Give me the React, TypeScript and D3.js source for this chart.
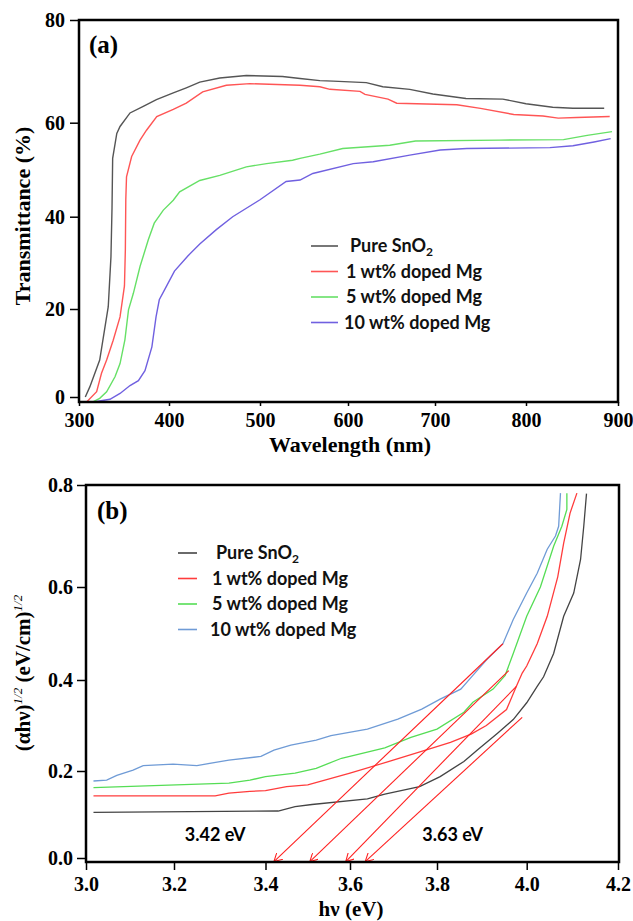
import React, { useEffect, useRef } from 'react';
import * as d3 from 'd3';

// ---- panel (a): transmittance spectra ----
const wlTicks = [300, 400, 500, 600, 700, 800, 900];
const transTicks = [0, 20, 40, 60, 80];

const pureWl = [307, 312, 323, 332.5, 335.5, 336.7, 337.4, 342, 345.6, 356.7, 371.4, 386, 404.7, 419, 433.8, 455.8, 485, 525.6, 545.5, 568, 583, 621, 640, 671, 697.5, 734, 774.5, 800, 829, 851, 885];
const pureT = [0, 2.3, 8.4, 20.5, 31.3, 42, 52.4, 57.7, 59.2, 61.9, 63.2, 64.5, 65.8, 66.8, 67.9, 68.7, 69.2, 69, 68.6, 68.2, 68.1, 67.8, 67, 66.5, 65.6, 64.7, 64.6, 63.7, 63, 62.8, 62.8];

const mg1Wl = [309, 319.6, 325, 330.7, 338, 345.6, 350.5, 351.5, 352, 352.8, 358.5, 367.8, 375, 386.4, 404.7, 419, 437, 463, 489, 545.5, 568, 579.5, 613.8, 619.5, 646, 656, 724, 750, 786.5, 818.5, 835, 855, 891];
const mg1T = [-1, 1.2, 5.4, 8.4, 12.9, 18.2, 25, 32.8, 43.6, 48.5, 52.8, 56.3, 58.4, 61.2, 62.6, 63.8, 66, 67.3, 67.6, 67.3, 67, 66.5, 66.1, 65.5, 64.6, 63.8, 63.5, 62.8, 61.6, 61.3, 60.9, 61, 61.2];

const mg5Wl = [316, 323, 330.7, 340, 345.6, 351, 355, 360.4, 367.8, 377, 383.6, 393.7, 404.7, 411.7, 433.8, 455.8, 485, 507.5, 537, 545.5, 568, 594, 648, 677.6, 771, 840.8, 866.5, 893.5];
const mg5T = [-1, -0.3, 1.2, 4.6, 7.6, 13, 19.8, 23.4, 29.2, 35, 38.6, 41.4, 43.5, 45.3, 47.7, 48.8, 50.6, 51.3, 52, 52.4, 53.3, 54.5, 55.2, 56.1, 56.3, 56.4, 57.3, 58.1];

const mg10Wl = [319.6, 334.4, 345.6, 356.7, 366, 373.3, 381, 385.6, 389.2, 397.4, 406, 420.7, 433.8, 452, 470, 500, 529.7, 545.5, 560, 606, 629, 671, 705.7, 735, 826, 851, 874, 892];
const mg10T = [-1, -0.5, 0.8, 2.6, 3.7, 6, 11.4, 18.2, 22, 25, 28.2, 31.5, 34.1, 37.2, 40, 43.6, 47.5, 47.8, 49.2, 51.3, 51.7, 53.1, 54.2, 54.5, 54.7, 55.1, 55.9, 56.6];

// ---- panel (b): Tauc plot ----
const evTicks = [3, 3.2, 3.4, 3.6, 3.8, 4, 4.2];
const taucTicks = [0, 0.2, 0.4, 0.6, 0.8];

const pureEv = [3.017, 3.43, 3.47, 3.51, 3.64, 3.68, 3.76, 3.807, 3.86, 3.89, 3.935, 3.97, 4.0, 4.023, 4.037, 4.059, 4.081, 4.103, 4.118, 4.125, 4.131];
const pureTauc = [0.105, 0.108, 0.118, 0.123, 0.136, 0.147, 0.164, 0.187, 0.221, 0.246, 0.283, 0.313, 0.35, 0.386, 0.407, 0.457, 0.537, 0.587, 0.654, 0.719, 0.783];

const mg1Ev = [3.017, 3.29, 3.32, 3.366, 3.4, 3.45, 3.5, 3.6, 3.69, 3.785, 3.83, 3.876, 3.91, 3.955, 3.977, 3.99, 4.0, 4.023, 4.045, 4.068, 4.081, 4.095, 4.11];
const mg1Tauc = [0.143, 0.143, 0.149, 0.153, 0.155, 0.164, 0.168, 0.195, 0.221, 0.249, 0.263, 0.281, 0.3, 0.335, 0.386, 0.415, 0.43, 0.478, 0.537, 0.62, 0.686, 0.745, 0.784];

const mg5Ev = [3.017, 3.32, 3.366, 3.4, 3.47, 3.52, 3.58, 3.68, 3.74, 3.8, 3.86, 3.88, 3.925, 3.952, 3.97, 4.0, 4.03, 4.059, 4.077, 4.088, 4.088];
const mg5Tauc = [0.162, 0.172, 0.179, 0.187, 0.195, 0.206, 0.228, 0.251, 0.274, 0.292, 0.329, 0.351, 0.38, 0.41, 0.457, 0.537, 0.6, 0.68, 0.719, 0.752, 0.784];

const mg10Ev = [3.017, 3.047, 3.07, 3.107, 3.13, 3.198, 3.25, 3.32, 3.39, 3.42, 3.46, 3.52, 3.555, 3.64, 3.71, 3.765, 3.807, 3.853, 3.88, 3.91, 3.947, 3.97, 4.0, 4.023, 4.045, 4.063, 4.07, 4.074];
const mg10Tauc = [0.177, 0.179, 0.19, 0.202, 0.212, 0.215, 0.212, 0.224, 0.232, 0.246, 0.257, 0.268, 0.278, 0.292, 0.314, 0.336, 0.358, 0.38, 0.41, 0.443, 0.478, 0.53, 0.587, 0.627, 0.674, 0.7, 0.719, 0.784];

// extrapolation arrows down to the energy axis
const arrowStartEv = [3.947, 3.96, 3.977, 3.99];
const arrowStartTauc = [0.478, 0.42, 0.386, 0.318];
const arrowEndEv = [3.42, 3.505, 3.59, 3.635];

const seriesNames = ['Pure SnO', '1 wt% doped Mg', '5 wt% doped Mg', '10 wt% doped Mg'];
const colorsA = ['#555555', '#ff5555', '#66e066', '#7060e0'];
const colorsB = ['#444444', '#ff3c3c', '#55dd55', '#6f9bd6'];

const SERIF = '"Liberation Serif", "Times New Roman", serif';
const SANS = 'Lato, "Open Sans", sans-serif';

const App = () => {
  const svgRef = useRef(null);

  useEffect(() => {
    const svg = d3.select(svgRef.current);
    svg.selectAll('*').remove();

    const styleAxis = (g) => {
      g.select('.domain').remove();
      g.attr('font-family', SERIF).attr('font-size', 20).attr('font-weight', 'bold');
      g.selectAll('.tick line').attr('stroke', '#000').attr('stroke-width', 1.5);
      g.selectAll('.tick text').attr('fill', '#000');
    };

    const drawLegend = (x1, x2, tx, y0, dy, colors) => {
      const lg = svg.append('g');
      seriesNames.forEach((name, i) => {
        const y = y0 + i * dy;
        lg.append('line').attr('x1', x1).attr('x2', x2).attr('y1', y).attr('y2', y)
          .attr('stroke', colors[i]).attr('stroke-width', 1.6);
        const t = lg.append('text').attr('x', tx + (i === 0 ? 4 : i === 3 ? -2 : 0)).attr('y', y + 6)
          .attr('font-family', SANS).attr('font-weight', 'bold').attr('font-size', 18).attr('fill', '#111');
        t.append('tspan').text(name);
        if (i === 0) t.append('tspan').attr('dy', 4).attr('font-size', 12).text('2');
      });
    };

    // ---------- (a) ----------
    const xA = d3.scaleLinear().domain(wlTicks).range([79, 169, 260, 348, 435, 526, 618]);
    const yA = d3.scaleLinear().domain([-1.1, 0, 20, 40, 60, 80]).range([402, 397, 309, 216.7, 122.7, 20]);

    svg.append('g').attr('transform', 'translate(79,0)')
      .call(d3.axisLeft(yA).tickValues(transTicks).tickSize(9).tickPadding(5).tickSizeOuter(0))
      .call(styleAxis);
    svg.append('g').attr('transform', 'translate(0,402)')
      .call(d3.axisBottom(xA).tickValues(wlTicks).tickSize(4).tickPadding(7).tickSizeOuter(0))
      .call(styleAxis);

    const lineA = d3.line().x(d => xA(d[0])).y(d => yA(d[1]));
    const dataA = [[pureWl, pureT], [mg1Wl, mg1T], [mg5Wl, mg5T], [mg10Wl, mg10T]];
    dataA.forEach(([xs, ys], i) => {
      svg.append('path').datum(xs.map((x, j) => [x, ys[j]]))
        .attr('d', lineA).attr('fill', 'none').attr('stroke', colorsA[i]).attr('stroke-width', 1.4);
    });

    svg.append('rect').attr('x', 79).attr('y', 20).attr('width', 618 - 79).attr('height', 402 - 20)
      .attr('fill', 'none').attr('stroke', '#000').attr('stroke-width', 2.5);

    svg.append('text').attr('x', 89).attr('y', 53).attr('font-family', SERIF).attr('font-weight', 'bold')
      .attr('font-size', 25).text('(a)');

    drawLegend(311, 338, 346, 246, 25.5, colorsA);

    svg.append('text').attr('transform', 'translate(30,216) rotate(-90)').attr('text-anchor', 'middle')
      .attr('font-family', SERIF).attr('font-weight', 'bold').attr('font-size', 22).text('Transmittance (%)');
    svg.append('text').attr('x', 350).attr('y', 452).attr('text-anchor', 'middle')
      .attr('font-family', SERIF).attr('font-weight', 'bold').attr('font-size', 22).text('Wavelength (nm)');

    // ---------- (b) ----------
    const xB = d3.scaleLinear().domain(evTicks).range([86, 174, 265.5, 350, 437, 526.7, 618]);
    const yB = d3.scaleLinear().domain([-0.009, 0, 0.2, 0.4, 0.6, 0.8]).range([862, 858, 771, 680, 587, 485]);

    svg.append('g').attr('transform', 'translate(86,0)')
      .call(d3.axisLeft(yB).tickValues(taucTicks).tickSize(9).tickPadding(4).tickSizeOuter(0))
      .call(styleAxis);
    svg.append('g').attr('transform', 'translate(0,862)')
      .call(d3.axisBottom(xB).tickValues(evTicks).tickSize(8).tickPadding(7).tickSizeOuter(0))
      .call(styleAxis);

    const lineB = d3.line().x(d => xB(d[0])).y(d => yB(d[1]));
    const dataB = [[pureEv, pureTauc], [mg1Ev, mg1Tauc], [mg5Ev, mg5Tauc], [mg10Ev, mg10Tauc]];
    dataB.forEach(([xs, ys], i) => {
      svg.append('path').datum(xs.map((x, j) => [x, ys[j]]))
        .attr('d', lineB).attr('fill', 'none').attr('stroke', colorsB[i]).attr('stroke-width', 1.3);
    });

    svg.append('defs').append('marker').attr('id', 'arrowHead')
      .attr('viewBox', '0 0 10 10').attr('refX', 9).attr('refY', 5)
      .attr('markerWidth', 9).attr('markerHeight', 9).attr('markerUnits', 'userSpaceOnUse')
      .attr('orient', 'auto')
      .append('path').attr('d', 'M0,0 L9,5 L0,10').attr('fill', 'none')
      .attr('stroke', '#ff2020').attr('stroke-width', 1.2);

    arrowStartEv.forEach((ev, i) => {
      svg.append('line')
        .attr('x1', xB(ev)).attr('y1', yB(arrowStartTauc[i]))
        .attr('x2', xB(arrowEndEv[i])).attr('y2', yB(-0.008))
        .attr('stroke', '#ff2020').attr('stroke-width', 1.1)
        .attr('marker-end', 'url(#arrowHead)');
    });

    svg.append('rect').attr('x', 86).attr('y', 485).attr('width', 619 - 86).attr('height', 862 - 485)
      .attr('fill', 'none').attr('stroke', '#000').attr('stroke-width', 2.5);

    svg.append('text').attr('x', 97).attr('y', 519).attr('font-family', SERIF).attr('font-weight', 'bold')
      .attr('font-size', 25).text('(b)');

    drawLegend(178, 197, 212, 553, 25.5, colorsB);

    svg.append('text').attr('x', xB(3.29)).attr('y', yB(0.053) + 6).attr('text-anchor', 'middle')
      .attr('font-family', SANS).attr('font-weight', 'bold').attr('font-size', 18).text('3.42 eV');
    svg.append('text').attr('x', xB(3.835)).attr('y', yB(0.053) + 6).attr('text-anchor', 'middle')
      .attr('font-family', SANS).attr('font-weight', 'bold').attr('font-size', 18).text('3.63 eV');

    const yt = svg.append('text').attr('transform', 'translate(30,673) rotate(-90)').attr('text-anchor', 'middle')
      .attr('font-family', SERIF).attr('font-weight', 'bold').attr('font-size', 21);
    yt.append('tspan').text('(αhν)');
    yt.append('tspan').attr('dy', -8).attr('font-size', 13).attr('font-weight', 'normal').attr('font-style', 'italic').text('1/2');
    yt.append('tspan').attr('dy', 8).text(' (eV/cm)');
    yt.append('tspan').attr('dy', -8).attr('font-size', 13).attr('font-weight', 'normal').attr('font-style', 'italic').text('1/2');

    svg.append('text').attr('x', 351).attr('y', 916).attr('text-anchor', 'middle')
      .attr('font-family', SERIF).attr('font-weight', 'bold').attr('font-size', 21).text('hν (eV)');
  }, []);

  return (
    <svg ref={svgRef} width={633} height={921}
      style={{ position: 'absolute', left: 0, top: 0, background: '#fff' }} />
  );
};

export default App;
